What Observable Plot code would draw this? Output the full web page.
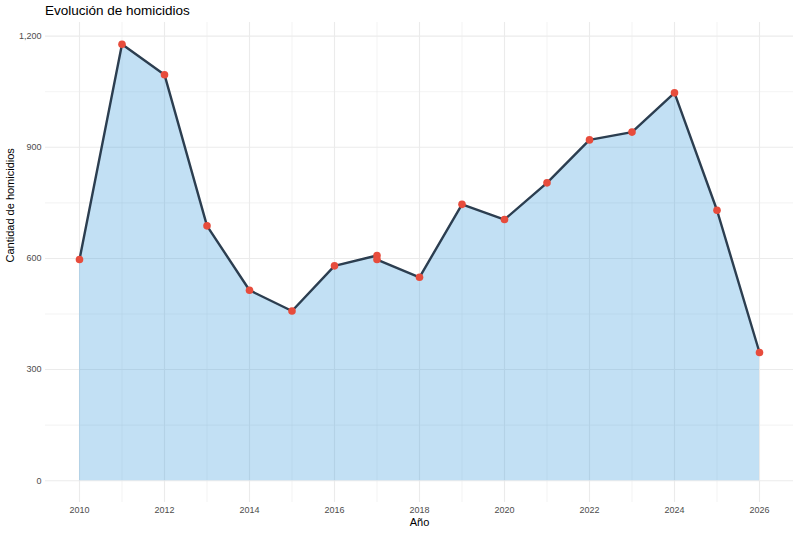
<!DOCTYPE html>
<html>
<head>
<meta charset="utf-8">
<script src="https://cdn.jsdelivr.net/npm/d3@7"></script>
<script src="https://cdn.jsdelivr.net/npm/@observablehq/plot@0.6"></script>
<style>
  body { margin: 0; background: #fff; font-family: "Liberation Sans", Arial, sans-serif; }
  #title { height: 22px; padding-left: 45px; font-size: 13.5px; line-height: 22px; color: #000; }
</style>
</head>
<body>
<div id="title">Evolución de homicidios</div>
<div id="chart"></div>
<script>
// Homicides per year (2017 appears twice in the source series)
const years = [2010, 2011, 2012, 2013, 2014, 2015, 2016, 2017, 2017, 2018, 2019, 2020, 2021, 2022, 2023, 2024, 2025, 2026];
const homicides = [597, 1178, 1096, 688, 514, 458, 580, 608, 597, 549, 746, 705, 804, 920, 941, 1047, 730, 346];
const yTicks = [0, 300, 600, 900, 1200];
const yMinor = [150, 450, 750, 1050];
const xTicks = [2010, 2012, 2014, 2016, 2018, 2020, 2022, 2024, 2026];
const xMinor = [2011, 2013, 2015, 2017, 2019, 2021, 2023, 2025];

const data = years.map((year, i) => ({year, value: homicides[i]}));

const fmt = d3.format(",");
const chart = Plot.plot({
  width: 800,
  height: 511,
  marginLeft: 45,
  marginRight: 7,
  marginTop: 0,
  marginBottom: 31,
  style: {fontFamily: "Liberation Sans, Arial, sans-serif", background: "#fff"},
  x: {domain: [2009.2, 2026.8]},
  y: {domain: [-58.9, 1236.9]},
  marks: [
    Plot.gridY(yMinor, {stroke: "#ebebeb", strokeOpacity: 1, strokeWidth: 0.6}),
    Plot.gridX(xMinor, {stroke: "#ebebeb", strokeOpacity: 1, strokeWidth: 0.6}),
    Plot.gridY(yTicks, {stroke: "#ebebeb", strokeOpacity: 1, strokeWidth: 1.1}),
    Plot.gridX(xTicks, {stroke: "#ebebeb", strokeOpacity: 1, strokeWidth: 1.1}),
    // unstacked area from zero up to each value
    Plot.area(data, {x1: "year", y1: 0, y2: "value", fill: "#3498db", fillOpacity: 0.3}),
    Plot.line(data, {x: "year", y: "value", stroke: "#2c3e50", strokeWidth: 2.4, curve: "linear"}),
    Plot.dot(data, {x: "year", y: "value", fill: "#e74c3c", r: 3.8}),
    Plot.axisY(yTicks, {
      anchor: "left", tickSize: 0, tickPadding: 4, tickFormat: fmt,
      fontSize: 9, color: "#4d4d4d", label: null
    }),
    Plot.axisX(xTicks, {
      anchor: "bottom", tickSize: 0, tickPadding: 4, tickFormat: d => String(d),
      fontSize: 9, color: "#4d4d4d", label: null
    }),
    Plot.text(["Año"], {frameAnchor: "bottom", dy: 23.5, fontSize: 11, fill: "#000"}),
    Plot.text(["Cantidad de homicidios"], {frameAnchor: "left", rotate: -90, dx: -35, fontSize: 11, fill: "#000"})
  ]
});
document.getElementById("chart").appendChild(chart);
</script>
</body>
</html>
